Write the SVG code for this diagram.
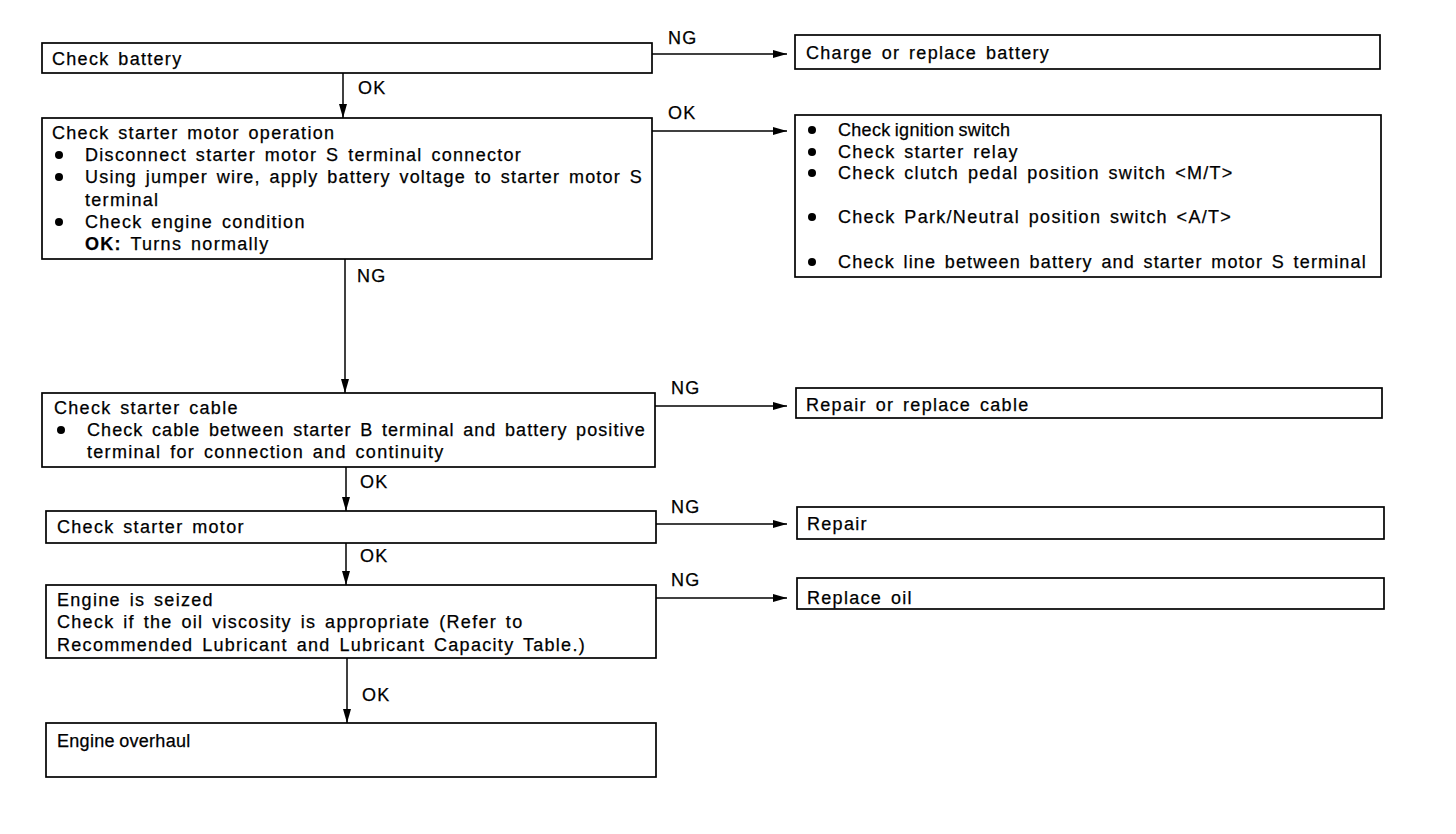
<svg xmlns="http://www.w3.org/2000/svg" width="1456" height="834" viewBox="0 0 1456 834">
<defs>
<style>
.box{fill:#fff;stroke:#000;stroke-width:1.7}
.t{font-family:"Liberation Sans",Arial,sans-serif;font-size:18px;letter-spacing:1.3px;word-spacing:2.5px;fill:#000;stroke:#000;stroke-width:0.25}
.tight{letter-spacing:0.3px;word-spacing:-1px}
.b{font-weight:bold}
.c{stroke:#000;stroke-width:1.5;fill:none;marker-end:url(#ah)}
</style>
<marker id="ah" markerUnits="userSpaceOnUse" markerWidth="16" markerHeight="10" refX="14" refY="4" orient="auto">
<path d="M0,0 L14,4 L0,8 Z" fill="#000"/>
</marker>
</defs>
<rect width="1456" height="834" fill="#fff"/>

<g id="connectors">
<line class="c" x1="652" y1="54" x2="787" y2="54"/>
<line class="c" x1="343" y1="73" x2="343" y2="118"/>
<line class="c" x1="652" y1="131" x2="787" y2="131"/>
<line class="c" x1="345" y1="259" x2="345" y2="393"/>
<line class="c" x1="655" y1="406" x2="787" y2="406"/>
<line class="c" x1="346" y1="467" x2="346" y2="511"/>
<line class="c" x1="656" y1="524" x2="787" y2="524"/>
<line class="c" x1="346" y1="543" x2="346" y2="585"/>
<line class="c" x1="656" y1="598" x2="787" y2="598"/>
<line class="c" x1="347" y1="658" x2="347" y2="723"/>
<text class="t" x="668" y="44">NG</text>
<text class="t" x="358" y="94">OK</text>
<text class="t" x="668" y="119">OK</text>
<text class="t" x="357" y="282">NG</text>
<text class="t" x="671" y="394">NG</text>
<text class="t" x="360" y="488">OK</text>
<text class="t" x="671" y="513">NG</text>
<text class="t" x="360" y="562">OK</text>
<text class="t" x="671" y="586">NG</text>
<text class="t" x="362" y="701">OK</text>
</g>

<g id="check-battery">
<rect class="box" x="42" y="43" width="610" height="30"/>
<text class="t" x="52" y="65">Check battery</text>
</g>

<g id="charge-battery">
<rect class="box" x="795" y="35" width="585" height="34"/>
<text class="t" x="806" y="59">Charge or replace battery</text>
</g>

<g id="check-starter-operation">
<rect class="box" x="42" y="118" width="610" height="141"/>
<text class="t" x="52" y="139">Check starter motor operation</text>
<circle cx="59" cy="155" r="4"/>
<text class="t" x="85" y="161">Disconnect starter motor S terminal connector</text>
<circle cx="59" cy="177" r="4"/>
<text class="t" x="85" y="183" textLength="558" lengthAdjust="spacing">Using jumper wire, apply battery voltage to starter motor S</text>
<text class="t" x="85" y="206">terminal</text>
<circle cx="59" cy="222" r="4"/>
<text class="t" x="85" y="228">Check engine condition</text>
<text class="t" x="85" y="250"><tspan class="b">OK:</tspan> Turns normally</text>
</g>

<g id="check-items">
<rect class="box" x="795" y="115" width="586" height="162"/>
<circle cx="812" cy="130" r="4"/>
<text class="t tight" x="838" y="136">Check ignition switch</text>
<circle cx="812" cy="152" r="4"/>
<text class="t" x="838" y="158">Check starter relay</text>
<circle cx="812" cy="173" r="4"/>
<text class="t" x="838" y="179">Check clutch pedal position switch &lt;M/T&gt;</text>
<circle cx="812" cy="217" r="4"/>
<text class="t" x="838" y="223">Check Park/Neutral position switch &lt;A/T&gt;</text>
<circle cx="812" cy="262" r="4"/>
<text class="t" x="838" y="268" textLength="529" lengthAdjust="spacing">Check line between battery and starter motor S terminal</text>
</g>

<g id="check-starter-cable">
<rect class="box" x="42" y="393" width="613" height="74"/>
<text class="t" x="54" y="414">Check starter cable</text>
<circle cx="61" cy="430" r="4"/>
<text class="t" x="87" y="436" textLength="559" lengthAdjust="spacing">Check cable between starter B terminal and battery positive</text>
<text class="t" x="87" y="458">terminal for connection and continuity</text>
</g>

<g id="repair-cable">
<rect class="box" x="796" y="388" width="586" height="30"/>
<text class="t" x="806" y="411">Repair or replace cable</text>
</g>

<g id="check-starter-motor">
<rect class="box" x="46" y="511" width="610" height="32"/>
<text class="t" x="57" y="533">Check starter motor</text>
</g>

<g id="repair">
<rect class="box" x="797" y="507" width="587" height="32"/>
<text class="t" x="807" y="530">Repair</text>
</g>

<g id="engine-seized">
<rect class="box" x="46" y="585" width="610" height="73"/>
<text class="t" x="57" y="606">Engine is seized</text>
<text class="t" x="57" y="628">Check if the oil viscosity is appropriate (Refer to</text>
<text class="t" x="57" y="651">Recommended Lubricant and Lubricant Capacity Table.)</text>
</g>

<g id="replace-oil">
<rect class="box" x="797" y="578" width="587" height="31"/>
<text class="t" x="807" y="604">Replace oil</text>
</g>

<g id="engine-overhaul">
<rect class="box" x="46" y="723" width="610" height="54"/>
<text class="t tight" x="57" y="747">Engine overhaul</text>
</g>
</svg>
